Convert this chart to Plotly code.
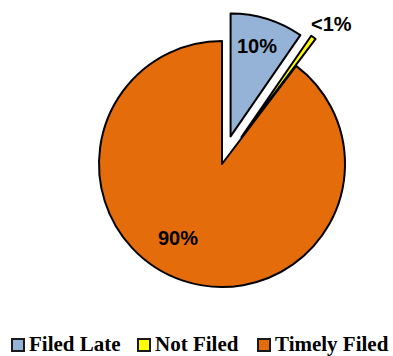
import plotly.graph_objects as go

# Filing status shares (percent)
categories = ["Filed Late", "Not Filed", "Timely Filed"]
shares = [9.6, 0.7, 89.7]
share_labels = ["10%", "<1%", "90%"]

colors = ["#95B3D7", "#FFFF00", "#E46C0A"]
pulls = [0.235, 0.27, 0.0]

W, H = 393, 356
cx, cy, r = 222, 164, 123
span = 2 * r * (1 + max(pulls))


def px_x(x):
    return x / W


def px_y(y):
    return 1 - y / H


fig = go.Figure(
    go.Pie(
        labels=categories,
        values=shares,
        textinfo="none",
        marker=dict(colors=colors, line=dict(color="black", width=2)),
        pull=pulls,
        sort=False,
        direction="clockwise",
        rotation=0,
        domain=dict(
            x=[(cx - span / 2) / W, (cx + span / 2) / W],
            y=[(H - cy - span / 2) / H, (H - cy + span / 2) / H],
        ),
        showlegend=False,
    )
)

# Percentage labels for each slice
label_pos = [(257, 46), (331, 24), (178, 238)]
for txt, (lx, ly) in zip(share_labels, label_pos):
    fig.add_annotation(
        x=px_x(lx), y=px_y(ly), xref="paper", yref="paper",
        text=txt, showarrow=False, xanchor="center", yanchor="middle",
        font=dict(family="Liberation Sans", size=20, color="black", weight="bold"),
    )

# Legend row: swatch + label per category
legend_x = [12, 138, 258]
sw, sy0, sy1 = 12, 339, 351
for name, col, lx in zip(categories, colors, legend_x):
    fig.add_shape(
        type="rect", xref="paper", yref="paper",
        x0=px_x(lx), x1=px_x(lx + sw), y0=px_y(sy1), y1=px_y(sy0),
        fillcolor=col, line=dict(color="#1a1a1a", width=2),
    )
    fig.add_annotation(
        x=px_x(lx + sw + 3), y=px_y(343.5), xref="paper", yref="paper",
        text=name, showarrow=False, xanchor="left", yanchor="middle",
        font=dict(family="Liberation Serif", size=21, color="black", weight="bold"),
    )

fig.update_layout(
    width=W,
    height=H,
    margin=dict(l=0, r=0, t=0, b=0, autoexpand=False),
    paper_bgcolor="white",
    plot_bgcolor="white",
)

fig.write_html("out.html")
